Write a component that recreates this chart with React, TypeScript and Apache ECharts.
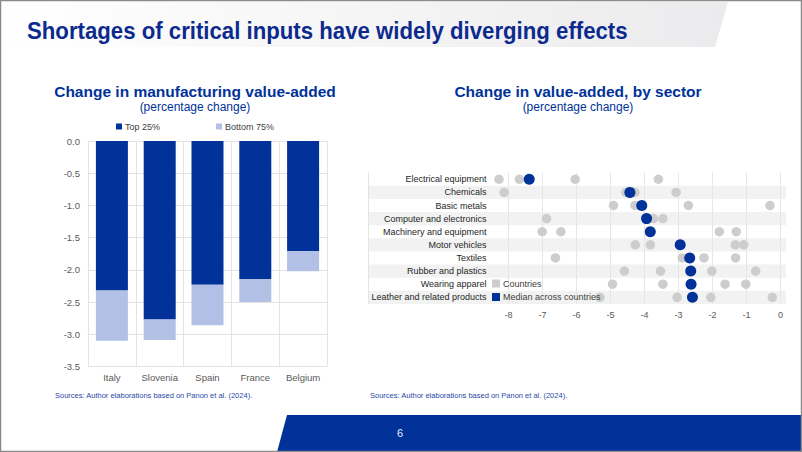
import React, { useEffect, useRef } from "react";
import * as echarts from "echarts";

const countries = ["Italy", "Slovenia", "Spain", "France", "Belgium"];
const top25 = [-2.32, -2.77, -2.23, -2.14, -1.71];
const bottom75 = [-0.78, -0.32, -0.63, -0.36, -0.31];
const barTicks = { min: -3.5, max: 0, interval: 0.5 };

const sectors = [
  "Electrical equipment",
  "Chemicals",
  "Basic metals",
  "Computer and electronics",
  "Machinery and equipment",
  "Motor vehicles",
  "Textiles",
  "Rubber and plastics",
  "Wearing apparel",
  "Leather and related products",
];
const countryValues = [
  [-8.28, -7.68, -7.39, -6.04, -3.59],
  [-8.13, -4.55, -4.43, -4.28, -3.07],
  [-4.91, -4.28, -4.08, -2.71, -0.31],
  [-6.88, -3.96, -3.94, -3.74, -3.46],
  [-7.01, -6.46, -3.83, -1.8, -1.3],
  [-4.27, -3.83, -2.95, -1.33, -1.08],
  [-6.62, -2.89, -2.67, -2.25, -1.32],
  [-4.59, -3.53, -2.64, -2.02, -0.73],
  [-4.94, -3.46, -2.63, -1.63, -1.02],
  [-5.31, -3.04, -2.59, -2.05, -0.24],
];
const medians = [-7.39, -4.43, -4.08, -3.94, -3.83, -2.95, -2.67, -2.64, -2.63, -2.59];
const dotTicks = { min: -8, max: 0, interval: 1 };

const FONT = "Liberation Sans, Arial, sans-serif";
const BLUE = "#003299";
const LIGHT = "#b1c0e4";
const TXT = "#595959";

export default function App() {
  const ref = useRef<HTMLDivElement>(null);
  useEffect(() => {
    const chart = echarts.init(ref.current!, null, { renderer: "svg" });
    const countryPoints: any[] = [];
    countryValues.forEach((vals, i) => vals.forEach((v) => countryPoints.push([v, sectors[i]])));
    const medianPoints = medians.map((v, i) => [v, sectors[i]]);

    chart.setOption({
      animation: false,
      backgroundColor: "#ffffff",
      textStyle: { fontFamily: FONT },
      graphic: [
        {
          type: "polygon",
          shape: { points: [[1, 2], [728, 2], [715, 47], [1, 47]] },
          style: {
            fill: new echarts.graphic.LinearGradient(0, 0, 1, 0, [
              { offset: 0, color: "#ffffff" },
              { offset: 1, color: "#ebebed" },
            ]),
          },
          z: 0,
        },
        {
          type: "text",
          x: 27,
          y: 31,
          scaleX: 0.925,
          style: {
            text: "Shortages of critical inputs have widely diverging effects",
            font: "bold 24px " + FONT,
            fill: "#0c2a8e",
            textVerticalAlign: "middle",
          },
          z: 5,
        },
        {
          type: "text",
          x: 195,
          y: 91,
          style: {
            text: "Change in manufacturing value-added",
            font: "bold 15.5px " + FONT,
            fill: BLUE,
            textAlign: "center",
            textVerticalAlign: "middle",
          },
        },
        {
          type: "text",
          x: 195,
          y: 107,
          style: {
            text: "(percentage change)",
            font: "12px " + FONT,
            fill: BLUE,
            textAlign: "center",
            textVerticalAlign: "middle",
          },
        },
        {
          type: "text",
          x: 578,
          y: 91,
          style: {
            text: "Change in value-added, by sector",
            font: "bold 15.5px " + FONT,
            fill: BLUE,
            textAlign: "center",
            textVerticalAlign: "middle",
          },
        },
        {
          type: "text",
          x: 578,
          y: 107,
          style: {
            text: "(percentage change)",
            font: "12px " + FONT,
            fill: BLUE,
            textAlign: "center",
            textVerticalAlign: "middle",
          },
        },
        {
          type: "text",
          x: 55,
          y: 395,
          style: {
            text: "Sources: Author elaborations based on Panon et al. (2024).",
            font: "7.5px " + FONT,
            fill: "#2a4aa6",
            textVerticalAlign: "middle",
          },
        },
        {
          type: "text",
          x: 370,
          y: 395,
          style: {
            text: "Sources: Author elaborations based on Panon et al. (2024).",
            font: "7.5px " + FONT,
            fill: "#2a4aa6",
            textVerticalAlign: "middle",
          },
        },
        {
          type: "polygon",
          shape: { points: [[287, 415], [802, 415], [802, 452], [277, 452]] },
          style: { fill: BLUE },
        },
        {
          type: "text",
          x: 400,
          y: 433,
          style: {
            text: "6",
            font: "11px " + FONT,
            fill: "#e8ecf8",
            textAlign: "center",
            textVerticalAlign: "middle",
          },
        },
        {
          type: "rect",
          shape: { x: 0.5, y: 0.5, width: 801, height: 451 },
          style: { fill: "none", stroke: "#8a8a8a", lineWidth: 1.5 },
          z: 10,
        },
      ],
      legend: [
        {
          data: ["Top 25%", "Bottom 75%"],
          left: 116,
          top: 122,
          padding: 0,
          itemWidth: 6,
          itemHeight: 6,
          itemGap: 56,
          icon: "rect",
          textStyle: { fontSize: 9, color: "#404040", fontFamily: FONT, padding: [0, 0, 0, -2] },
        },
        {
          data: ["Countries", "Median across countries"],
          orient: "vertical",
          left: 492,
          top: 279,
          padding: 0,
          itemWidth: 8,
          itemHeight: 8,
          itemGap: 4.5,
          icon: "rect",
          textStyle: { fontSize: 9, color: "#404040", fontFamily: FONT, padding: [0, 0, 0, -2] },
        },
      ],
      grid: [
        { left: 88, top: 141, width: 239, height: 225.5 },
        { left: 368, top: 172.7, width: 418, height: 131.2 },
        { left: 508.5, top: 172.7, width: 272, height: 131.2 },
      ],
      xAxis: [
        {
          gridIndex: 0,
          type: "category",
          data: countries,
          axisLine: { show: false },
          axisTick: { show: false, interval: 0 },
          splitLine: { show: true, interval: 0, lineStyle: { color: "#e3e3e3" } },
          axisLabel: { fontSize: 9.5, color: TXT, margin: 6, fontFamily: FONT, interval: 0 },
        },
        {
          gridIndex: 1,
          type: "value",
          min: 0,
          max: 1,
          show: false,
        },
        {
          gridIndex: 2,
          type: "value",
          min: dotTicks.min,
          max: dotTicks.max,
          interval: dotTicks.interval,
          axisLine: { show: false },
          axisTick: { show: false },
          splitLine: { show: true, lineStyle: { color: "#e6e6e6" } },
          axisLabel: { fontSize: 9, color: TXT, margin: 7, fontFamily: FONT },
        },
      ],
      yAxis: [
        {
          gridIndex: 0,
          type: "value",
          min: barTicks.min,
          max: barTicks.max,
          interval: barTicks.interval,
          axisLine: { show: false },
          axisTick: { show: false },
          splitLine: { show: true, lineStyle: { color: "#e3e3e3" } },
          axisLabel: {
            fontSize: 9.5,
            color: TXT,
            margin: 8,
            fontFamily: FONT,
            formatter: (v: number) => v.toFixed(1),
          },
        },
        {
          gridIndex: 1,
          type: "category",
          data: sectors,
          inverse: true,
          position: "right",
          axisLine: { show: true, lineStyle: { color: "#e3e3e3" } },
          axisTick: { show: false, interval: 0 },
          axisLabel: { show: false, interval: 0 },
          splitLine: { show: false },
          splitArea: {
            show: true,
            interval: 0,
            areaStyle: { color: ["rgba(255,255,255,0)", "#f2f2f2"] },
          },
        },
        {
          gridIndex: 2,
          type: "category",
          data: sectors,
          inverse: true,
          axisLine: { show: false },
          axisTick: { show: false },
          splitLine: { show: false },
          axisLabel: { fontSize: 9, color: "#262626", margin: 22, fontFamily: FONT, interval: 0 },
        },
      ],
      series: [
        {
          name: "Top 25%",
          type: "bar",
          stack: "total",
          xAxisIndex: 0,
          yAxisIndex: 0,
          data: top25,
          barWidth: 32,
          itemStyle: { color: BLUE },
        },
        {
          name: "Bottom 75%",
          type: "bar",
          stack: "total",
          xAxisIndex: 0,
          yAxisIndex: 0,
          data: bottom75,
          barWidth: 32,
          itemStyle: { color: LIGHT },
        },
        {
          name: "Countries",
          type: "scatter",
          xAxisIndex: 2,
          yAxisIndex: 2,
          data: countryPoints,
          clip: false,
          symbolSize: 9.5,
          itemStyle: { color: "#cdcdcd", opacity: 1 },
          z: 2,
        },
        {
          name: "Median across countries",
          type: "scatter",
          xAxisIndex: 2,
          yAxisIndex: 2,
          data: medianPoints,
          clip: false,
          symbolSize: 11,
          itemStyle: { color: BLUE, opacity: 1 },
          z: 3,
        },
      ],
    });
    return () => chart.dispose();
  }, []);
  return (
    <div
      ref={ref}
      style={{ position: "fixed", left: 0, top: 0, width: 802, height: 452 }}
    />
  );
}
